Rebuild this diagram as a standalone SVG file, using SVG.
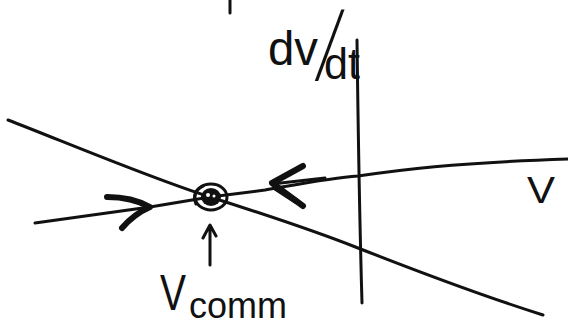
<svg xmlns="http://www.w3.org/2000/svg" width="568" height="325" viewBox="0 0 568 325">
<style>
.ln{fill:none;stroke:#111;stroke-width:3;stroke-linecap:round;stroke-linejoin:round}
.hd{fill:none;stroke:#111;stroke-width:6;stroke-linecap:round;stroke-linejoin:round}
.tx{font-family:"Liberation Sans",Arial,sans-serif;fill:#111}
</style>
<rect width="568" height="325" fill="#fff"/>
<g id="marks">
<line class="ln" x1="230" y1="0" x2="230" y2="13" stroke-width="4"/>
</g>
<g id="axis">
<path class="ln" d="M357,40 C358,120 359,200 362,303"/>
<text class="tx" x="268" y="65" font-size="48" textLength="50" lengthAdjust="spacingAndGlyphs">dv</text>
<text class="tx" transform="translate(315,80) skewX(-14) scale(1.2,2.7)" font-size="36">/</text>
<text class="tx" x="324" y="79" font-size="44" textLength="36" lengthAdjust="spacingAndGlyphs">dt</text>
</g>
<g id="connectors">
<path class="ln" d="M8,120 C60,140 150,178 210,197 S330,237 358,248 S470,292 543,315"/>
<path class="ln" d="M35,223 L150,207 L210,197 L265,190 C300,184 330,178 358,176 C400,170 450,163 568,159"/>
<path class="hd" d="M107,197 Q132,197 150,207 Q134,214 122,228"/>
<path class="hd" d="M303,166 L272,183 L303,206"/>
<path class="hd" d="M276,188 L296,201"/>
<path class="ln" d="M272,184 L325,178" stroke-width="5"/>
<path class="ln" d="M210,265 L210,226 M203,238 L210,225 L216,236"/>
</g>
<g id="node-vcomm">
<ellipse cx="211" cy="197" rx="16" ry="13" fill="none" stroke="#111" stroke-width="3"/>
<ellipse cx="211" cy="197" rx="10" ry="9" fill="#111"/>
<circle cx="208" cy="195" r="2" fill="#fff"/>
<circle cx="214" cy="196" r="1.5" fill="#fff"/>
<path class="ln" d="M196,204 C192,196 196,189 203,186" stroke-width="2"/>
<text class="tx" x="160" y="310" font-size="50" textLength="26" lengthAdjust="spacingAndGlyphs">V</text>
<text class="tx" x="189" y="318" font-size="36" textLength="98" lengthAdjust="spacingAndGlyphs">comm</text>
</g>
<g id="label-v">
<text class="tx" x="527" y="203" font-size="36" textLength="28" lengthAdjust="spacingAndGlyphs">V</text>
</g>
</svg>
